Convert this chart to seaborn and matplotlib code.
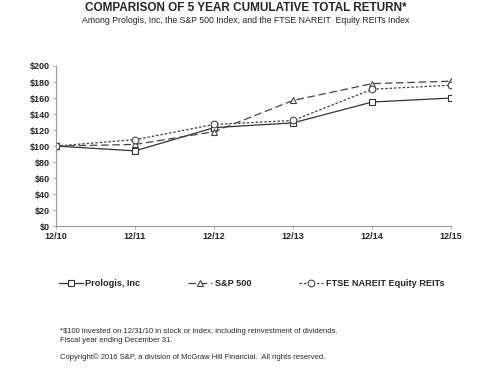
import matplotlib
matplotlib.use("Agg")
import matplotlib.pyplot as plt
import seaborn as sns

# values
years = ["12/10", "12/11", "12/12", "12/13", "12/14", "12/15"]
prologis = [100, 94, 123, 129, 155, 160]
sp500 = [100, 102, 118, 157, 178, 181]
ftse = [100, 108, 127, 132, 171, 176]
series_names = ["Prologis, Inc", "S&P 500", "FTSE NAREIT Equity REITs"]

sns.set_style("white")
plt.rcParams["font.family"] = ["Liberation Sans", "DejaVu Sans"]

fig = plt.figure(figsize=(4.92, 3.75), dpi=100)
ax = fig.add_axes([0.114, 0.397, 0.803, 0.427])

x = list(range(len(years)))
styles = [
    (prologis, "-", "s", "#333333"),
    (sp500, (0, (6, 3)), "^", "#444444"),
    (ftse, (0, (2, 1.5)), "o", "#444444"),
]
for (vals, ls, mk, col), name in zip(styles, series_names):
    sns.lineplot(
        x=x, y=vals, ax=ax, color=col, linestyle=ls, linewidth=0.9,
        marker=mk, markersize=4.8, markerfacecolor="white",
        markeredgecolor=col, markeredgewidth=0.8, label=name,
    )

ax.set_xlim(0, len(years) - 1)
ax.set_ylim(0, 200)
ax.set_xticks(x)
ax.set_xticklabels(years)
ax.set_yticks(range(0, 201, 20))
ax.set_yticklabels([f"${v}" for v in range(0, 201, 20)])
for lab in ax.get_xticklabels() + ax.get_yticklabels():
    lab.set_fontweight("bold")
    lab.set_fontsize(6.5)
ax.tick_params(axis="both", length=2.5, width=0.6, color="#999999", pad=2,
               direction="out", bottom=True, left=True)
for s in ["top", "right"]:
    ax.spines[s].set_visible(False)
for s in ["left", "bottom"]:
    ax.spines[s].set_color("#999999")
    ax.spines[s].set_linewidth(0.8)

handles, labels = ax.get_legend_handles_labels()
ax.get_legend().remove()
leg = fig.legend(handles, labels, loc="center", bbox_to_anchor=(0.511, 0.243),
                 ncol=3, frameon=False, columnspacing=5.2, handlelength=2.6,
                 handletextpad=0.3, prop={"size": 6.6, "weight": "bold"})

fig.text(0.5, 0.978, "COMPARISON OF 5 YEAR CUMULATIVE TOTAL RETURN*",
         ha="center", va="center", fontsize=8.5, fontweight="bold")
fig.text(0.5, 0.945,
         "Among Prologis, Inc, the S&P 500 Index, and the FTSE NAREIT  Equity REITs Index",
         ha="center", va="center", fontsize=6.3)

fig.text(0.122, 0.104,
         "*$100 invested on 12/31/10 in stock or index, including reinvestment of dividends.\n"
         "Fiscal year ending December 31.",
         ha="left", va="center", fontsize=5.5, linespacing=1.3)
fig.text(0.122, 0.048,
         "Copyright\u00a9 2016 S&P, a division of McGraw Hill Financial.  All rights reserved.",
         ha="left", va="center", fontsize=5.5)

fig.savefig("out.png", dpi=100)
